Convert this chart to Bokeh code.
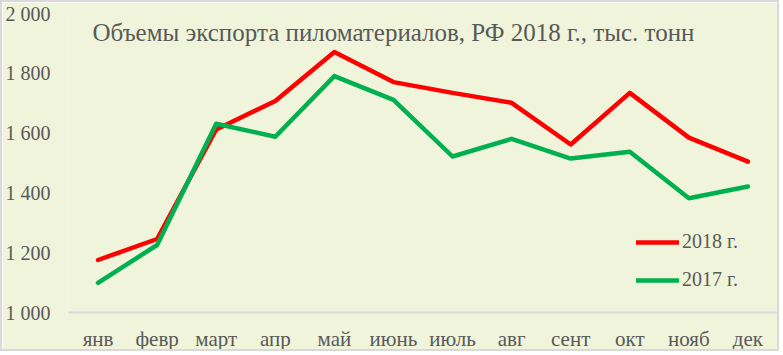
from bokeh.plotting import figure
from bokeh.models import FactorRange, Range1d, Label, Legend, LegendItem, FixedTicker
from bokeh.embed import file_html
from bokeh.resources import INLINE

months = ["янв", "февр", "март", "апр", "май", "июнь", "июль", "авг", "сент", "окт", "нояб", "дек"]
v2018 = [1175, 1245, 1610, 1705, 1868, 1768, 1732, 1699, 1560, 1732, 1583, 1503]
v2017 = [1099, 1225, 1629, 1586, 1788, 1709, 1520, 1579, 1513, 1536, 1381, 1420]
yticks = [1000, 1200, 1400, 1600, 1800, 2000]
title_text = "Объемы экспорта пиломатериалов, РФ 2018 г., тыс. тонн"

BG = "#EFF4DA"
FONT = "Liberation Serif"
TXT = "#595959"

p = figure(width=779, height=351, x_range=FactorRange(*months), y_range=Range1d(1000, 2000),
           output_backend="svg", toolbar_location=None,
           min_border_left=62, min_border_right=4, min_border_top=10, min_border_bottom=39)
p.styles = {"border": "2px solid #D9D9D9"}
p.background_fill_color = BG
p.border_fill_color = BG
p.outline_line_color = None
p.xgrid.visible = False
p.ygrid.visible = False

r18 = p.line(months, v2018, line_color="#FF0000", line_width=4.5, line_cap="round", line_join="round")
r17 = p.line(months, v2017, line_color="#00B050", line_width=4.5, line_cap="round", line_join="round")

p.yaxis.ticker = FixedTicker(ticks=yticks)
p.yaxis.major_label_overrides = {t: f"{t:,}".replace(",", " ") for t in yticks}
p.yaxis.axis_line_color = None
p.yaxis.major_tick_line_color = None
p.yaxis.minor_tick_line_color = None
p.yaxis.major_label_standoff = 12
p.yaxis.major_label_text_font = FONT
p.yaxis.major_label_text_font_size = "20px"
p.yaxis.major_label_text_color = TXT

p.xaxis.axis_line_color = "#D9D9D9"
p.xaxis.axis_line_width = 2
p.xaxis.major_tick_line_color = None
p.xaxis.minor_tick_line_color = None
p.xaxis.major_label_standoff = 8
p.xaxis.major_label_text_font = FONT
p.xaxis.major_label_text_font_size = "21px"
p.xaxis.major_label_text_color = TXT

p.add_layout(Label(x=5.5, y=1934, text=title_text, text_align="center", text_baseline="middle",
                   text_font=FONT, text_font_size="25px", text_color=TXT))

legend = Legend(items=[LegendItem(label="2018 г.", renderers=[r18]),
                       LegendItem(label="2017 г.", renderers=[r17])],
                location=(568, 21), orientation="vertical",
                glyph_width=43, glyph_height=20, spacing=15, label_standoff=3,
                padding=0, margin=0, border_line_color=None, background_fill_alpha=0,
                label_text_font=FONT, label_text_font_size="20px", label_text_color=TXT)
p.add_layout(legend)

open("out.html", "w").write(file_html(p, INLINE))
